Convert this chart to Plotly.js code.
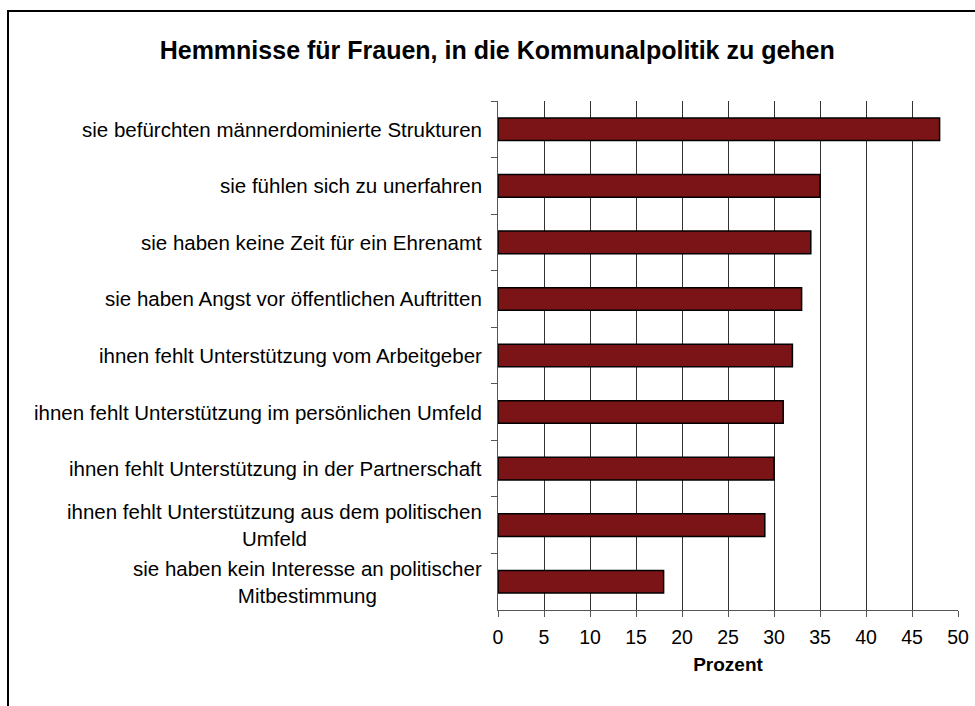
<!DOCTYPE html>
<html>
<head>
<meta charset="utf-8">
<script src="https://cdn.plot.ly/plotly-3.0.1.min.js"></script>
<style>html,body{margin:0;padding:0;background:#fff;}#chart{width:975px;height:706px;}</style>
</head>
<body>
<div id="chart"></div>
<script>
const categories = [
  "sie befürchten männerdominierte Strukturen",
  "sie fühlen sich zu unerfahren",
  "sie haben keine Zeit für ein Ehrenamt",
  "sie haben Angst vor öffentlichen Auftritten",
  "ihnen fehlt Unterstützung vom Arbeitgeber",
  "ihnen fehlt Unterstützung im persönlichen Umfeld",
  "ihnen fehlt Unterstützung in der Partnerschaft",
  "ihnen fehlt Unterstützung aus dem politischen<br>Umfeld",
  "sie haben kein Interesse an politischer<br>Mitbestimmung"
];
const values = [48, 35, 34, 33, 32, 31, 30, 29, 18];
const xTicks = [0, 5, 10, 15, 20, 25, 30, 35, 40, 45, 50];
const chartTitle = "Hemmnisse für Frauen, in die Kommunalpolitik zu gehen";
const xTitle = "Prozent";

const W = 975, H = 706;
const m = {l: 498, r: 17, t: 101, b: 96};
const pw = W - m.l - m.r, ph = H - m.t - m.b;
const px2x = p => (p - m.l) / pw;
const py2y = p => (H - m.b - p) / ph;

const font = "Liberation Sans, Arial, sans-serif";

const trace = {
  type: "bar",
  orientation: "h",
  x: values,
  y: categories,
  marker: {color: "#7b1416", line: {color: "#000", width: 1.5}},
  hoverinfo: "x+y"
};

const annotations = categories.map(c => ({
  xref: "paper", yref: "y", x: 0, y: c, xanchor: "right", yanchor: "middle",
  xshift: -14, text: c, showarrow: false, align: "center",
  font: {family: font, size: 20.5, color: "#000"}
}));

const layout = {
  width: W, height: H,
  margin: m,
  paper_bgcolor: "#fff", plot_bgcolor: "#fff",
  showlegend: false,
  bargap: 0.6,
  font: {family: font, color: "#000"},
  title: {
    text: "<b>" + chartTitle + "</b>",
    font: {family: font, size: 25, color: "#000"},
    x: 0.51, xref: "container", xanchor: "center",
    y: 1 - 50 / H, yref: "container", yanchor: "middle"
  },
  xaxis: {
    range: [0, 50],
    tickvals: xTicks,
    ticktext: xTicks.map(String),
    showgrid: true, gridcolor: "#333", gridwidth: 1,
    zeroline: false,
    showline: true, linecolor: "#555", linewidth: 1,
    ticks: "outside", ticklen: 6, tickcolor: "#555",
    ticklabelstandoff: 4,
    tickfont: {family: font, size: 19.5, color: "#000"},
    title: {text: "<b>" + xTitle + "</b>", font: {family: font, size: 19, color: "#000"}, standoff: 10},
    fixedrange: true
  },
  yaxis: {
    type: "category",
    categoryorder: "array",
    categoryarray: categories,
    autorange: "reversed",
    showticklabels: false,
    showgrid: false, zeroline: false,
    showline: true, linecolor: "#555", linewidth: 1,
    ticks: "outside", ticklen: 6, tickcolor: "#555",
    tickson: "boundaries",
    fixedrange: true
  },
  annotations: annotations,
  shapes: [
    {type: "line", xref: "paper", yref: "paper", x0: px2x(7), x1: px2x(980), y0: py2y(11), y1: py2y(11), line: {color: "#000", width: 2}},
    {type: "line", xref: "paper", yref: "paper", x0: px2x(8), x1: px2x(8), y0: py2y(10), y1: py2y(720), line: {color: "#000", width: 2}}
  ]
};

Plotly.newPlot("chart", [trace], layout, {displayModeBar: false, staticPlot: true});
</script>
</body>
</html>
